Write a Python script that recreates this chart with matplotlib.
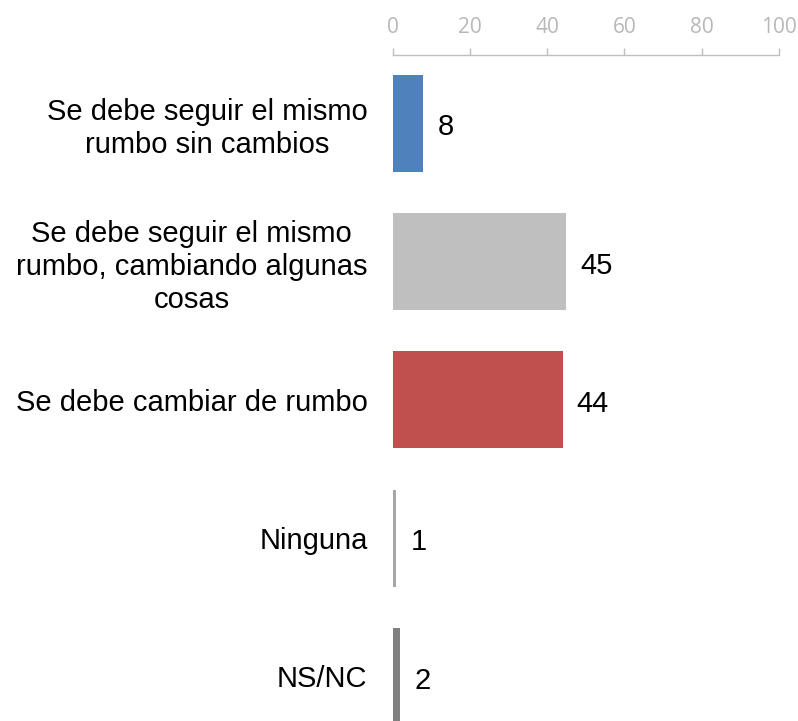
import numpy as np
import matplotlib
matplotlib.use("Agg")
import matplotlib.pyplot as plt

categories = [
    "Se debe seguir el mismo\nrumbo sin cambios",
    "Se debe seguir el mismo\nrumbo, cambiando algunas\ncosas",
    "Se debe cambiar de rumbo",
    "Ninguna",
    "NS/NC",
]
values = [8, 45, 44, 1, 2]
bar_colors = ["#4F81BD", "#BFBFBF", "#C0504D", "#A6A6A6", "#808080"]
x_ticks = [0, 20, 40, 60, 80, 100]

plt.rcParams['font.family'] = ['Liberation Sans', 'DejaVu Sans']

fig = plt.figure(figsize=(7.98, 7.21), dpi=100)
ax = fig.add_axes([0.4919, 0.0, 0.4843, 0.9237])

y = np.arange(len(categories))
bars = ax.barh(y, values, height=0.70, color=bar_colors)

# value labels to the right of each bar
for bar, v in zip(bars, values):
    ax.annotate(str(v),
                xy=(bar.get_width(), bar.get_y() + bar.get_height() / 2),
                xytext=(10, -3), textcoords='offset points',
                ha='left', va='center', fontsize=21, color='black')

ax.set_xlim(0, 100)
ax.set_ylim(4.322, -0.494)

ax.set_yticks(y)
ax.set_yticklabels(categories, fontsize=21, multialignment='center',
                   linespacing=1.23)
ax.tick_params(axis='y', length=0, pad=18)

ax.xaxis.tick_top()
ax.set_xticks(x_ticks)
ax.set_xticklabels([str(t) for t in x_ticks], fontsize=15, color='#B8B8B8',
                   family='Open Sans')
ax.tick_params(axis='x', direction='out', length=5, width=1, color='#BFBFBF', pad=7)

for s in ['left', 'right', 'bottom']:
    ax.spines[s].set_visible(False)
ax.spines['top'].set_color('#BFBFBF')
ax.spines['top'].set_linewidth(1)

fig.savefig("out.png", dpi=100)
